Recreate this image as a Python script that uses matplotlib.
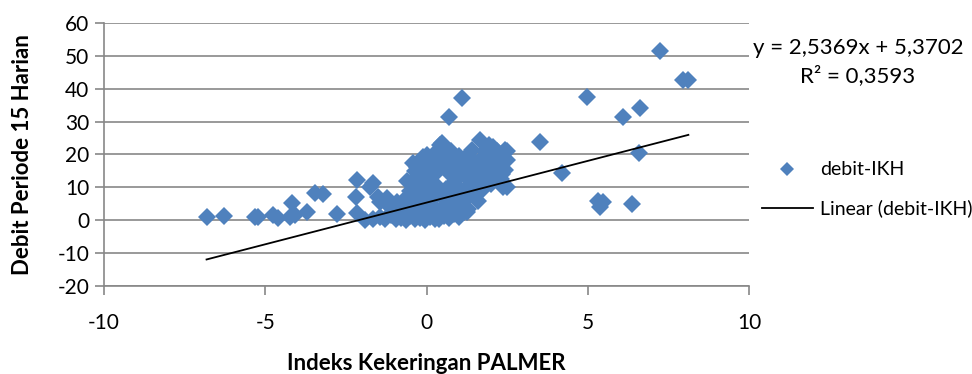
import matplotlib
matplotlib.use("Agg")
import matplotlib.pyplot as plt
from matplotlib.lines import Line2D
import numpy as np

plt.rcParams['font.family'] = ['Lato', 'DejaVu Sans']
plt.rcParams['axes.unicode_minus'] = False

# Indeks Kekeringan PALMER (x) vs Debit Periode 15 Harian (y)
ikh_x = [
    -6.82, -6.27, -5.32, -5.22, -4.75, -4.60, -4.18, -4.23, -4.08, -3.71, -3.46, -3.20, -2.78,
    -2.16, -1.91, -1.65, -1.45, -1.30, -1.10, -0.95, -0.80, -0.65, -0.50, -0.35, -0.20, -0.05,
    0.10, 0.25, 0.40, 0.55, 0.70, 0.85, 1.00, 1.15, 1.30,
    -1.49, -1.44, -1.23, -1.13, -0.92, -0.75, -0.61, -0.45, -0.30, -0.20, -0.10, 0.05, 0.20,
    0.30, 0.45, 0.60, 0.75, 0.90, 1.05, 1.25, 1.45, 1.60,
    -1.75, -1.65, -2.16, -2.19, -0.41, -0.20, -0.30, 0.00, 0.15, 0.30, 0.10, 0.80, 0.70,
    0.95, 1.04, 1.20, 1.35, 1.55, 1.70, 1.90, 2.10, 2.38, 2.49, 2.30,
    -0.30, -0.10, -0.41, 0.00, 0.20, 0.42, 0.47, 0.60, 0.35, 0.85, 1.00, 1.30, 1.15, 1.50,
    1.66, 1.80, 2.02, 2.20, 2.38, 2.43, 2.07, 2.18, 2.43, 2.49, 2.00, 1.70,
    -0.50, -0.60, -0.35, 0.05, 0.25, 0.55, 0.75, 0.90, 1.10, 1.25, 1.40, 1.60, 1.85, 2.25,
    2.35, 2.00, 1.75, 1.50, 1.30, 1.10, 0.85, 0.60, 0.35, -0.05, 0.05, -0.45, 0.40, 0.15,
    -0.20, 0.65, 0.95, 1.75, 2.20, 1.95, 0.30, -0.10, 0.65, 1.00, 2.50,
    0.71, 1.09,
    3.52, 4.19, 4.97, 6.10, 6.62, 7.24, 7.96, 8.12, 6.60, 5.33, 5.38, 5.48, 6.36,
]
debit_y = [
    1.1, 1.3, 1.1, 1.1, 1.6, 0.6, 5.2, 1.1, 1.6, 2.6, 8.2, 8.0, 2.0,
    2.1, 0.2, 0.5, 1.0, 0.3, 1.5, 0.4, 0.8, 0.2, 1.2, 0.3, 0.6, 0.2,
    0.9, 0.3, 0.5, 1.4, 0.8, 2.0, 1.1, 2.6, 3.5,
    7.2, 5.5, 6.8, 4.0, 5.7, 3.5, 7.2, 4.5, 6.0, 2.8, 8.0, 4.0, 6.5,
    3.0, 7.5, 4.8, 6.0, 3.5, 5.0, 2.6, 8.2, 6.0,
    10.2, 11.3, 12.3, 7.2, 11.3, 9.5, 13.5, 12.0, 10.0, 14.5, 15.0, 11.0, 14.5,
    12.5, 9.2, 13.5, 11.0, 14.0, 12.0, 15.0, 13.0, 10.2, 10.2, 12.5,
    16.3, 19.3, 17.3, 19.9, 17.5, 22.9, 23.4, 18.5, 16.0, 17.0, 19.5, 19.9, 16.5, 17.5,
    24.4, 21.0, 20.9, 18.0, 18.3, 21.4, 22.4, 19.3, 15.3, 18.3, 16.0, 18.5,
    9.0, 12.0, 15.0, 17.0, 20.5, 20.0, 21.0, 15.0, 17.8, 15.5, 21.5, 16.0, 18.0, 16.5,
    14.0, 11.0, 9.5, 10.5, 7.0, 7.0, 8.5, 9.5, 10.0, 14.0, 6.0, 7.5, 2.0, 2.5,
    4.5, 3.0, 6.0, 14.5, 21.0, 23.0, 8.5, 10.5, 16.0, 14.0, 21.0,
    31.5, 37.1,
    23.7, 14.3, 37.6, 31.5, 34.1, 51.5, 42.7, 42.7, 20.4, 6.0, 4.1, 5.4, 5.0,
]

# Excel trendline as printed on the chart
slope = 2.5369
intercept = 5.3702
r_squared = 0.3593

x_ticks = [-10, -5, 0, 5, 10]
y_ticks = [-20, -10, 0, 10, 20, 30, 40, 50, 60]

blue = '#4F81BD'
grid_gray = '#878787'

fig = plt.figure(figsize=(9.72, 3.74), dpi=100)
ax = fig.add_axes([104 / 972, 1 - 286 / 374, 645 / 972, 263 / 374])

ax.plot(ikh_x, debit_y, linestyle='none', marker='D', markersize=8.7,
        color=blue, markeredgewidth=0, zorder=3)

xs = np.array([min(ikh_x), max(ikh_x)])
ax.plot(xs, slope * xs + intercept, color='black', linewidth=1.3, zorder=4)

ax.set_xlim(-10, 10)
ax.set_ylim(-20, 60)
ax.set_xticks(x_ticks)
ax.set_yticks(y_ticks)
ax.yaxis.grid(True, color=grid_gray, linewidth=1.2)
ax.set_axisbelow(True)
for side in ['top', 'right']:
    ax.spines[side].set_visible(False)
for side in ['left', 'bottom']:
    ax.spines[side].set_color(grid_gray)
    ax.spines[side].set_linewidth(1.2)
ax.tick_params(axis='both', colors=grid_gray, length=6.5, width=1.2, labelsize=15,
               labelcolor='black')
ax.tick_params(axis='x', pad=13)
ax.tick_params(axis='y', pad=4)

ax.set_xlabel('Indeks Kekeringan PALMER', fontsize=16, fontweight='bold', labelpad=14)
ax.set_ylabel('Debit Periode 15 Harian', fontsize=16, fontweight='bold', labelpad=18)

fig.text(858 / 972, 1 - 48 / 374,
         'y = ' + f'{slope:.4f}'.replace('.', ',') + 'x + ' + f'{intercept:.4f}'.replace('.', ','),
         ha='center', va='center', fontsize=16)
fig.text(858 / 972, 1 - 76 / 374, 'R² = ' + f'{r_squared:.4f}'.replace('.', ','),
         ha='center', va='center', fontsize=16)

handles = [
    Line2D([], [], linestyle='none', marker='D', markersize=7, color=blue, markeredgewidth=0),
    Line2D([], [], color='black', linewidth=1.3),
]
fig.legend(handles, ['debit-IKH', 'Linear (debit-IKH)'], loc='center left',
           bbox_to_anchor=(762 / 972, 1 - 189.5 / 374), frameon=False, fontsize=14,
           borderpad=0, borderaxespad=0, handlelength=2.6, handletextpad=0.4,
           labelspacing=1.1)

fig.savefig('out.png', dpi=100)
